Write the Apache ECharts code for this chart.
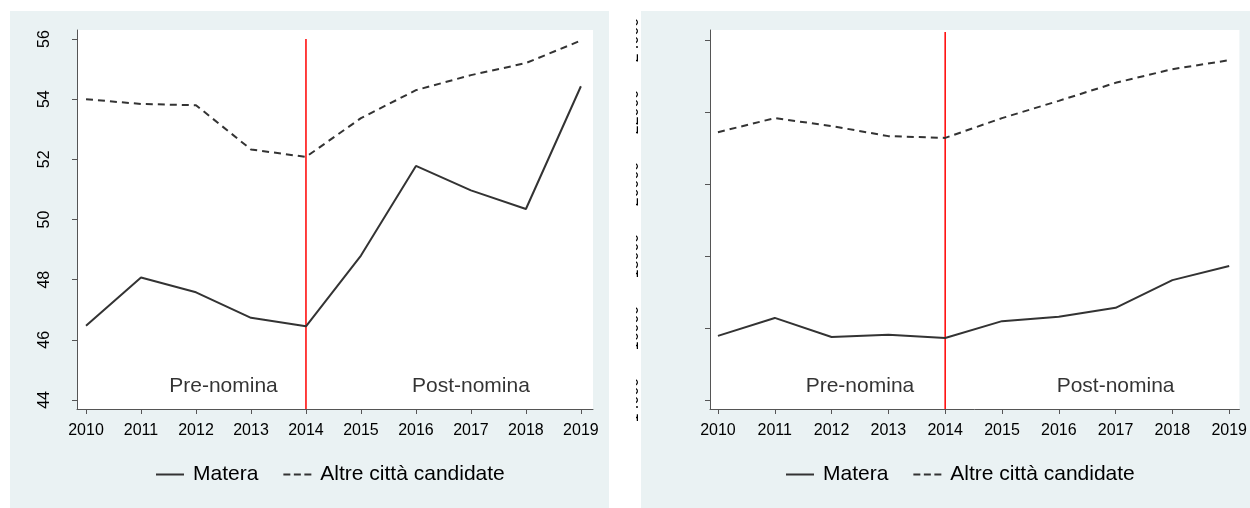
<!DOCTYPE html>
<html><head><meta charset="utf-8">
<script src="https://cdn.jsdelivr.net/npm/echarts@6/dist/echarts.min.js"></script>
<style>html,body{margin:0;padding:0;background:#fff}#c{width:1250px;height:508px}</style>
</head><body><div id="c"></div>
<script>
const years = [2010, 2011, 2012, 2013, 2014, 2015, 2016, 2017, 2018, 2019];
const materaA = [46.47, 48.07, 47.58, 46.73, 46.45, 48.8, 51.78, 50.97, 50.35, 54.43];
const altreA = [54.0, 53.84, 53.8, 52.33, 52.08, 53.37, 54.3, 54.8, 55.2, 55.95];
const yTicksA = [44, 46, 48, 50, 52, 54, 56];
const materaB = [15780, 16280, 15750, 15810, 15720, 16190, 16310, 16560, 17330, 17720];
const altreB = [21440, 21830, 21610, 21330, 21280, 21830, 22310, 22810, 23190, 23440];
const yTicksB = [14000, 16000, 18000, 20000, 22000, 24000];
const eventYear = 2014;
const eventSpanA = [56, 43.7];
const eventSpanB = [24222, 13750];
const phaseLabels = ['Pre-nomina', 'Post-nomina'];
const phaseX = [2012.5, 2017];
const phaseYA = [44.47, 44.47];
const phaseYB = [14390, 14390];
const seriesNames = ['Matera', 'Altre città candidate'];

const FONT = 'Liberation Sans, Arial, sans-serif';
const BG = '#EAF2F3';
const INK = '#333333';
const SOLID_ICON = 'path://M0,0h28v2h-28z';
const DASH_ICON = 'path://M0,0h7v2h-7z M10.5,0h7v2h-7z M21,0h7v2h-7z';

const chart = echarts.init(document.getElementById('c'), null, {renderer: 'canvas'});

function xAxisDef(gi, min, max) {
  return {
    type: 'value', gridIndex: gi, min: min, max: max,
    axisLine: {show: true, lineStyle: {color: '#555', width: 1}},
    axisTick: {show: true, length: 5, customValues: years, lineStyle: {color: '#555'}},
    axisLabel: {show: true, customValues: years, formatter: v => String(v), margin: 14,
      fontFamily: FONT, fontSize: 16, color: '#000'},
    splitLine: {show: false}
  };
}
function yAxisDef(gi, min, max, ticks, margin) {
  return {
    type: 'value', gridIndex: gi, min: min, max: max,
    axisLine: {show: true, lineStyle: {color: '#555', width: 1}},
    axisTick: {show: true, length: 5, customValues: ticks, lineStyle: {color: '#555'}},
    axisLabel: {show: true, customValues: ticks, formatter: v => String(v), rotate: 90, margin: margin,
      fontFamily: FONT, fontSize: 16, color: '#000'},
    splitLine: {show: false}
  };
}
function pairs(vals) { return years.map((y, i) => [y, vals[i]]); }
function lineSeries(name, vals, gi, dashed) {
  return {
    name: name, type: 'line', xAxisIndex: gi, yAxisIndex: gi,
    data: pairs(vals), symbol: 'none', showSymbol: false, animation: false,
    lineStyle: {color: INK, width: 2, type: dashed ? [7, 5] : 'solid'},
    itemStyle: {color: INK}
  };
}
function eventLine(gi, span) {
  return {
    name: 'evt' + gi, type: 'line', xAxisIndex: gi, yAxisIndex: gi, animation: false,
    data: span.map(v => [eventYear, v]), symbol: 'none', showSymbol: false, silent: true, z: 3,
    lineStyle: {color: '#ff0000', width: 1.5, type: 'solid'}, itemStyle: {color: '#ff0000'}
  };
}
function annot(gi, ys) {
  return {
    name: 'ann' + gi, type: 'scatter', xAxisIndex: gi, yAxisIndex: gi, animation: false,
    symbolSize: 0, silent: true,
    data: phaseX.map((x, i) => ({value: [x, ys[i]], name: phaseLabels[i]})),
    label: {show: true, position: 'inside', formatter: p => p.name,
      fontFamily: FONT, fontSize: 21, color: '#000'}
  };
}
function legendDef(left) {
  return {
    data: [
      {name: seriesNames[0], icon: SOLID_ICON, itemStyle: {color: INK}},
      {name: seriesNames[1], icon: DASH_ICON, itemStyle: {color: INK}}
    ],
    left: left, top: 464, padding: 0, itemGap: 25, itemWidth: 28, itemHeight: 2,
    selectedMode: false,
    textStyle: {fontFamily: FONT, fontSize: 21, color: '#000', padding: [0, 0, 0, 4]}
  };
}

chart.setOption({
  animation: false,
  backgroundColor: '#ffffff',
  graphic: [
    {type: 'rect', z: -10, shape: {x: 10, y: 11, width: 599, height: 497}, style: {fill: BG}},
    {type: 'rect', z: -10, shape: {x: 641, y: 11, width: 609, height: 497}, style: {fill: BG}},
    {type: 'rect', z: 100, shape: {x: 609, y: 0, width: 27, height: 508}, style: {fill: '#ffffff'}}
  ],
  grid: [
    {left: 77, right: 657, top: 30, bottom: 99, show: true, backgroundColor: '#fff', borderWidth: 0},
    {left: 710, right: 4, top: 30, bottom: 99, show: true, backgroundColor: '#fff', borderWidth: 0}
  ],
  xAxis: [xAxisDef(0, 2009.836, 2019.22), xAxisDef(1, 2009.86, 2019.18)],
  yAxis: [yAxisDef(0, 43.7, 56.3, yTicksA, 24), yAxisDef(1, 13750, 24278, yTicksB, 68)],
  legend: [legendDef(156), legendDef(786)],
  series: [
    eventLine(0, eventSpanA),
    lineSeries(seriesNames[0], materaA, 0, false),
    lineSeries(seriesNames[1], altreA, 0, true),
    annot(0, phaseYA),
    eventLine(1, eventSpanB),
    lineSeries(seriesNames[0], materaB, 1, false),
    lineSeries(seriesNames[1], altreB, 1, true),
    annot(1, phaseYB)
  ]
});
</script></body></html>
